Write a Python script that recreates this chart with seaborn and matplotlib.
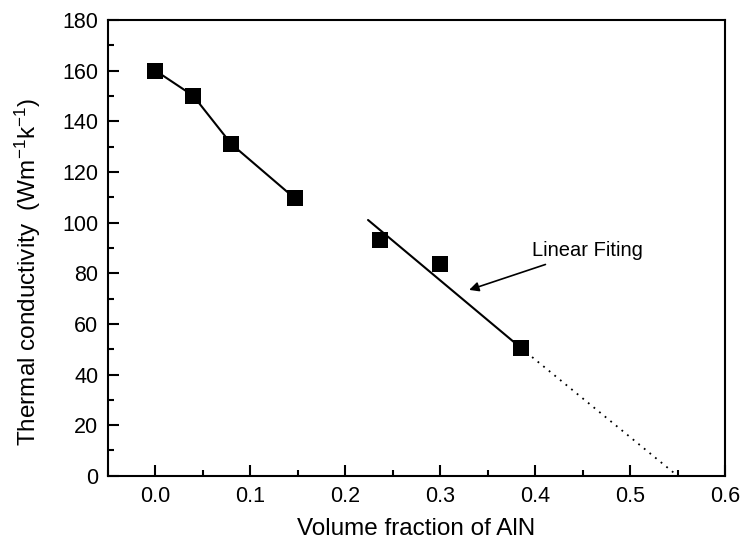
import numpy as np
import pandas as pd
import matplotlib
matplotlib.use("Agg")
import matplotlib.pyplot as plt
from matplotlib.ticker import MultipleLocator
import seaborn as sns

# Data
vol_frac = [0.0, 0.04, 0.08, 0.147, 0.237, 0.30, 0.385]
conductivity = [160, 150, 131, 109.5, 93, 83.5, 50.5]

# Line segments
fit1_x = [0.0, 0.04, 0.08, 0.147]
fit1_y = [160, 150, 131, 109.5]
fit2_x = [0.224, 0.385]
fit2_y = [101, 50.5]
extrap_x = [0.385, 0.55]
extrap_y = [50.5, 0]

annot_text = "Linear Fiting"

sns.set_style("ticks")
plt.rcParams['font.family'] = ['Liberation Sans', 'DejaVu Sans']
plt.rcParams['mathtext.fontset'] = 'custom'
plt.rcParams['mathtext.rm'] = 'Liberation Sans'
plt.rcParams['mathtext.it'] = 'Liberation Sans'
plt.rcParams['text.color'] = 'black'
plt.rcParams['axes.labelcolor'] = 'black'
plt.rcParams['xtick.color'] = 'black'
plt.rcParams['ytick.color'] = 'black'

fig = plt.figure(figsize=(7.44, 5.52), dpi=100)
ax = fig.add_axes([0.145, 0.138, 0.8295, 0.826])

df1 = pd.DataFrame({"x": fit1_x, "y": fit1_y})
df2 = pd.DataFrame({"x": fit2_x, "y": fit2_y})
df3 = pd.DataFrame({"x": extrap_x, "y": extrap_y})
sns.lineplot(data=df1, x="x", y="y", ax=ax, color="black", lw=1.5, sort=False)
sns.lineplot(data=df2, x="x", y="y", ax=ax, color="black", lw=1.5, sort=False)
sns.lineplot(data=df3, x="x", y="y", ax=ax, color="black", lw=1.3, sort=False,
             linestyle=(0, (1, 3)))

dfp = pd.DataFrame({"x": vol_frac, "y": conductivity})
sns.scatterplot(data=dfp, x="x", y="y", ax=ax, marker="s", s=130,
                color="black", edgecolor="black", linewidth=0, zorder=5)

ax.annotate(annot_text, xy=(0.3305, 73.4), xytext=(0.397, 89.0),
            fontsize=14.5, va="center", ha="left", color="black",
            arrowprops=dict(arrowstyle="-|>", color="black", lw=1.2,
                            mutation_scale=14, shrinkA=3, shrinkB=0))

ax.set_xlim(-0.05, 0.6)
ax.set_ylim(0, 180)
ax.xaxis.set_major_locator(MultipleLocator(0.1))
ax.xaxis.set_minor_locator(MultipleLocator(0.05))
ax.yaxis.set_major_locator(MultipleLocator(20))
ax.yaxis.set_minor_locator(MultipleLocator(10))
ax.tick_params(which="major", direction="in", length=8, width=1.5,
               labelsize=15.5, pad=7, colors="black")
ax.tick_params(which="minor", direction="in", length=4, width=1.5, colors="black")
for sp in ax.spines.values():
    sp.set_linewidth(1.5)
    sp.set_color("black")

ax.set_xlabel("Volume fraction of AlN", fontsize=17.5, labelpad=8, color="black")
ax.set_ylabel(r"Thermal conductivity  (Wm$^{-1}$k$^{-1}$)", fontsize=17.5, color="black")
ax.yaxis.set_label_coords(-0.105, 0.447)

fig.savefig("out.png", dpi=100)
